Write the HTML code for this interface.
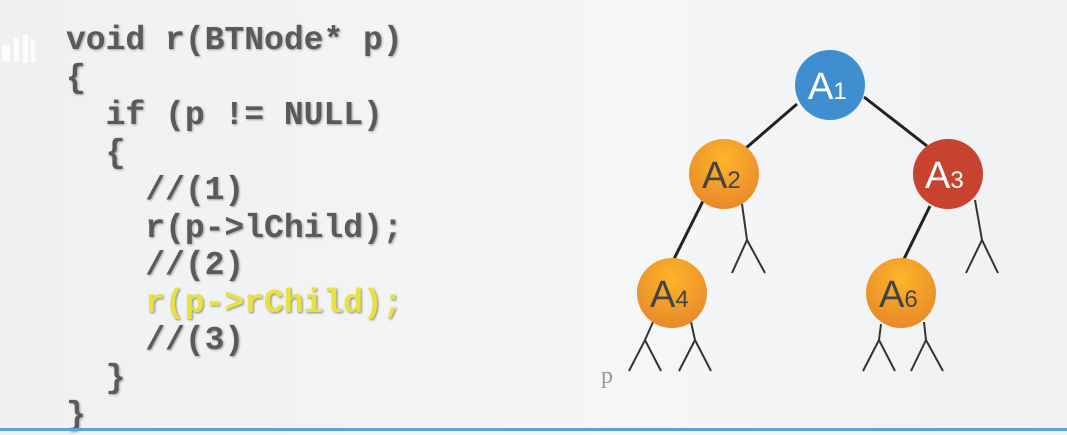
<!DOCTYPE html>
<html><head><meta charset="utf-8"><style>
body{margin:0;width:1067px;height:431px;overflow:hidden;background:linear-gradient(90deg,#eef0f2,#f5f6f7 60%,#f0f1f3);position:relative;font-family:"Liberation Mono",monospace}
.c{position:absolute;font-size:33px;line-height:37.5px;color:#5a5a5a;font-weight:bold;text-shadow:1px 1px 2px rgba(0,0,0,.35);white-space:pre;left:66px;top:22px}
.y{color:#e8e23a;text-shadow:1px 1px 2px rgba(0,0,0,.45)}
.bar{position:absolute;left:0;right:0;bottom:0;height:3px;background:#5aa4d8}
</style></head><body>
<div class="c">void r(BTNode* p)
{
  if (p != NULL)
  {
    //(1)
    r(p-&gt;lChild);
    //(2)
    <span class="y">r(p-&gt;rChild);</span>
    //(3)
  }
}</div>
<svg width="1067" height="431" style="position:absolute;left:0;top:0">
<defs>
<radialGradient id="o" cx="50%" cy="30%" r="70%"><stop offset="0" stop-color="#fdb52a"/><stop offset="1" stop-color="#e8892a"/></radialGradient>
</defs>
<g stroke="#222" stroke-width="3" fill="none">
<line x1="797" y1="104" x2="746" y2="148"/><line x1="864" y1="97" x2="927" y2="146"/>
<line x1="703" y1="201" x2="673" y2="261"/><line x1="930" y1="206" x2="903" y2="261"/>
</g>
<g stroke="#333" stroke-width="2" fill="none">
<polyline points="742,204 747,240"/><polyline points="732,273 747,240 765,273"/>
<polyline points="975,200 982,240"/><polyline points="966,273 982,240 998,273"/>
<polyline points="653,322 645,340"/><polyline points="629,371 645,340 661,371"/>
<polyline points="691,322 695,340"/><polyline points="679,371 695,340 711,371"/>
<polyline points="881,324 879,340"/><polyline points="863,371 879,340 895,371"/>
<polyline points="924,322 926,340"/><polyline points="911,371 926,340 943,371"/>
</g>
<circle cx="830" cy="85" r="35" fill="#3f8fd0"/>
<circle cx="724" cy="174" r="35" fill="url(#o)"/>
<circle cx="948" cy="174" r="35" fill="#c8432f"/>
<circle cx="672" cy="293" r="35" fill="url(#o)"/>
<circle cx="901" cy="293" r="35" fill="url(#o)"/>
<g font-family="Liberation Sans,sans-serif" font-size="38">
<text x="808" y="99" fill="#fff">A<tspan font-size="24">1</tspan></text>
<text x="702" y="188" fill="#444">A<tspan font-size="24">2</tspan></text>
<text x="925" y="188" fill="#fff">A<tspan font-size="24">3</tspan></text>
<text x="650" y="307" fill="#444">A<tspan font-size="24">4</tspan></text>
<text x="879" y="307" fill="#444">A<tspan font-size="24">6</tspan></text>
<text x="601" y="383" font-family="Liberation Serif,serif" font-size="24" fill="#999">p</text>
</g>
<g fill="#fff" opacity=".9"><rect x="2" y="45" width="8" height="16"/><rect x="14" y="38" width="5" height="24"/><rect x="23" y="35" width="5" height="28"/><rect x="31" y="40" width="4" height="22"/></g>
</svg>
<div class="bar"></div>
</body></html>
